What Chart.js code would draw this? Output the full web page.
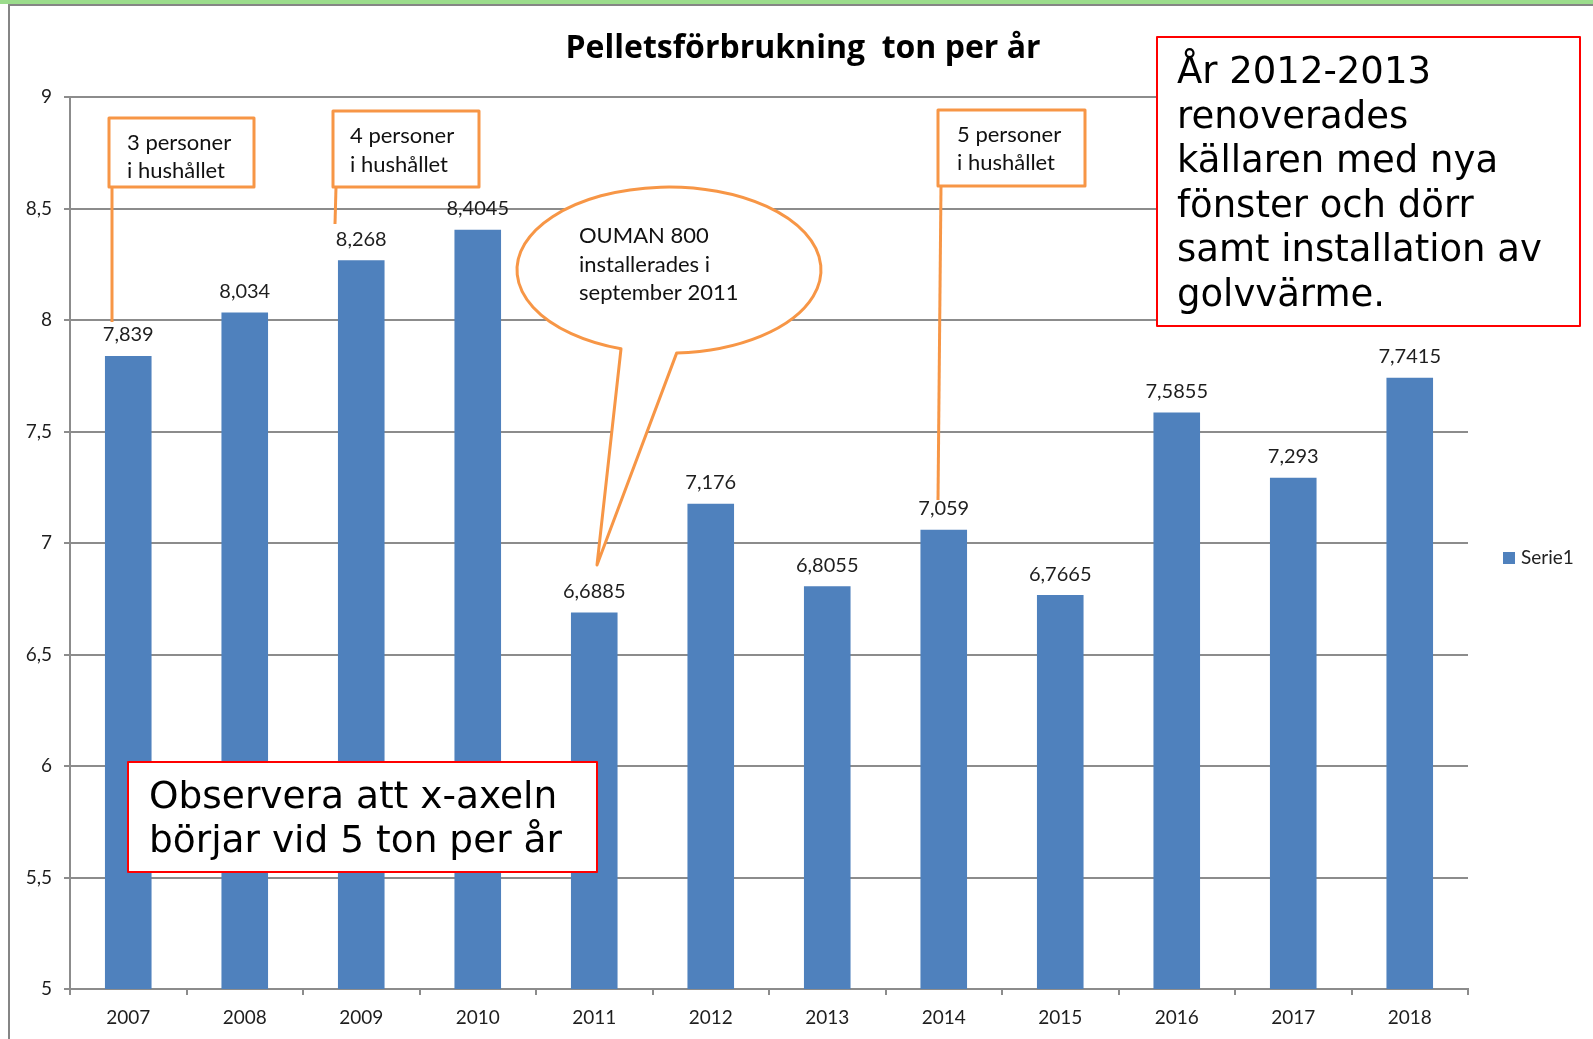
<!DOCTYPE html>
<html><head><meta charset="utf-8">
<script src="https://cdn.jsdelivr.net/npm/chart.js@4"></script>
<style>html,body{margin:0;padding:0;background:#fff;overflow:hidden}canvas{display:block}</style>
</head><body>
<canvas id="c" width="1593" height="1039"></canvas>
<script>
// ---- data ----
const categories = ['2007','2008','2009','2010','2011','2012','2013','2014','2015','2016','2017','2018'];
const values = [7.839, 8.034, 8.268, 8.4045, 6.6885, 7.176, 6.8055, 7.059, 6.7665, 7.5855, 7.293, 7.7415];
const seriesName = 'Serie1';
const chartTitle = 'Pelletsförbrukning  ton per år';
const yMin = 5, yMax = 9, yStep = 0.5;
const calloutTexts = [['3 personer','i hushållet'],['4 personer','i hushållet'],['5 personer','i hushållet']];
const bubbleText = ['OUMAN 800','installerades i','september 2011'];
const noteRight = ['År 2012-2013','renoverades','källaren med nya','fönster och dörr','samt installation av','golvvärme.'];
const noteLeft = ['Observera att x-axeln','börjar vid 5 ton per år'];

const fmt = v => String(v).replace('.', ',');
const BAR = '#4F81BD', ORANGE = '#F79646', GRID = '#8c8c8c';
const CAL = 'Lato, "Open Sans", sans-serif';
const VER = '"DejaVu Sans", Verdana, sans-serif';

const deco = {
  id: 'deco',
  beforeDraw(chart) {
    const ctx = chart.ctx;
    ctx.save();
    ctx.fillStyle = '#fff';
    ctx.fillRect(0, 0, chart.width, chart.height);
    ctx.fillStyle = '#9bdc8c';
    ctx.fillRect(0, 0, chart.width, 4);
    ctx.fillStyle = '#858585';
    ctx.fillRect(8, 4, chart.width - 8, 2);
    ctx.fillRect(8, 4, 2, chart.height - 4);
    ctx.restore();
  },
  afterDatasetsDraw(chart) {
    const ctx = chart.ctx;
    const meta = chart.getDatasetMeta(0);
    const ys = chart.scales.y;
    ctx.save();
    // data labels
    ctx.font = '20px ' + CAL;
    ctx.fillStyle = '#1e1e1e';
    ctx.textAlign = 'center';
    ctx.textBaseline = 'middle';
    chart.data.datasets[0].data.forEach((v, i) => {
      const el = meta.data[i];
      ctx.fillText(fmt(v), el.x, ys.getPixelForValue(v) - 21);
    });
    // title
    ctx.font = 'bold 32px "Open Sans", Lato, sans-serif';
    ctx.fillStyle = '#000';
    ctx.fillText(chartTitle, 803, 49);
    // legend
    ctx.fillStyle = chart.data.datasets[0].backgroundColor;
    ctx.fillRect(1503, 552, 12, 12);
    ctx.fillStyle = '#222';
    ctx.textAlign = 'left';
    ctx.font = '19px ' + CAL;
    ctx.fillText(chart.data.datasets[0].label, 1521, 558);
    ctx.restore();
  },
  afterDraw(chart) {
    const ctx = chart.ctx;
    ctx.save();
    ctx.lineJoin = 'round';
    // orange callouts
    const boxes = [
      {x:109, y:118, w:145, h:69, px1:112, py1:187, px2:112, py2:322, tx:127, ty:[150,178]},
      {x:333, y:111, w:146, h:76, px1:336, py1:187, px2:335, py2:224, tx:350, ty:[143,172]},
      {x:938, y:110, w:147, h:76, px1:941, py1:186, px2:938, py2:500, tx:957, ty:[142,170]}
    ];
    boxes.forEach((b, k) => {
      ctx.strokeStyle = ORANGE; ctx.lineWidth = 3;
      ctx.beginPath(); ctx.moveTo(b.px1, b.py1); ctx.lineTo(b.px2, b.py2); ctx.stroke();
      ctx.fillStyle = '#fff';
      ctx.fillRect(b.x, b.y, b.w, b.h);
      ctx.strokeRect(b.x, b.y, b.w, b.h);
      ctx.fillStyle = '#111';
      ctx.font = '22px ' + CAL;
      ctx.textAlign = 'left'; ctx.textBaseline = 'alphabetic';
      calloutTexts[k].forEach((t, j) => ctx.fillText(t, b.tx, b.ty[j]));
    });
    // speech bubble
    const cx = 669, cy = 270, rx = 152, ry = 83;
    const a1 = 1.892, a2 = 1.52;
    ctx.beginPath();
    ctx.moveTo(597, 565);
    ctx.lineTo(cx + rx * Math.cos(a1), cy + ry * Math.sin(a1));
    ctx.ellipse(cx, cy, rx, ry, 0, a1, a2, false);
    ctx.lineTo(597, 565);
    ctx.closePath();
    ctx.fillStyle = '#fff'; ctx.fill();
    ctx.strokeStyle = ORANGE; ctx.lineWidth = 3; ctx.stroke();
    ctx.fillStyle = '#111';
    ctx.font = '22px ' + CAL;
    bubbleText.forEach((t, j) => ctx.fillText(t, 579, 243 + j * 28.5));
    // red notes
    function note(x, y, w, h, lines, tx, ty0, lh, size) {
      ctx.fillStyle = '#fff'; ctx.fillRect(x, y, w, h);
      ctx.strokeStyle = '#ff0000'; ctx.lineWidth = 2; ctx.strokeRect(x, y, w, h);
      ctx.fillStyle = '#000'; ctx.font = size + 'px ' + VER;
      lines.forEach((t, j) => ctx.fillText(t, tx, ty0 + j * lh));
    }
    note(1157, 37, 423, 289, noteRight, 1177, 83, 44.6, 37);
    note(128, 762, 469, 110, noteLeft, 149, 808, 44, 37.5);
    ctx.restore();
  }
};

new Chart(document.getElementById('c'), {
  type: 'bar',
  data: {
    labels: categories,
    datasets: [{ label: seriesName, data: values, backgroundColor: BAR, borderWidth: 0,
      barPercentage: 0.4, categoryPercentage: 1 }]
  },
  options: {
    responsive: false, animation: false, devicePixelRatio: 1,
    layout: { padding: { left: 0, top: 97, right: 125, bottom: 0 } },
    plugins: { legend: { display: false }, title: { display: false }, tooltip: { enabled: false } },
    scales: {
      x: {
        afterFit: s => { s.height = 50; },
        grid: { offset: true, drawOnChartArea: false, drawTicks: true, tickLength: 6, color: GRID, lineWidth: 2 },
        border: { display: true, color: GRID, width: 2 },
        ticks: { color: '#1e1e1e', font: { family: CAL, size: 19 }, padding: 11 }
      },
      y: {
        min: yMin, max: yMax,
        afterFit: s => { s.width = 70; },
        grid: { color: GRID, lineWidth: 2, tickLength: 6 },
        border: { display: true, color: GRID, width: 2 },
        ticks: { stepSize: yStep, color: '#1e1e1e', font: { family: CAL, size: 19 }, padding: 12, callback: v => fmt(v) }
      }
    }
  },
  plugins: [deco]
});
</script>
</body></html>
